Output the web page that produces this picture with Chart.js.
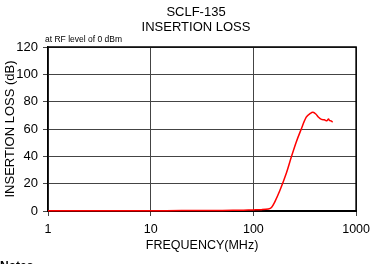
<!DOCTYPE html>
<html lang="en">
<head>
  <meta charset="UTF-8" />
  <title>SCLF-135 Insertion Loss</title>
  <script src="https://cdn.jsdelivr.net/npm/chart.js"></script>
</head>
<body style="margin: 0; padding: 0; background: #fff;">
  <canvas id="lossChart" width="376" height="264" style="display: block;"></canvas>

  <script>
    // values
    const freqMHz = [1, 2, 5, 10, 20, 50, 80, 100, 120, 140, 150, 160, 181, 210, 234, 260, 289, 327, 360, 380, 405, 431, 460, 491, 520, 539, 550, 570, 592];
    const lossDb = [0.2, 0.2, 0.2, 0.2, 0.3, 0.4, 0.6, 0.8, 1.0, 1.5, 2.5, 6, 15, 28, 39.5, 50, 59, 68.6, 71.5, 72.2, 71, 68.6, 67, 66.7, 66, 67.4, 66.2, 66, 65];
    const xTicks = [1, 10, 100, 1000];
    const yTicks = [0, 20, 40, 60, 80, 100, 120];
    const chartTitle = ['SCLF-135', 'INSERTION LOSS'];
    const noteText = 'at RF level of 0 dBm';

    const FONT = '"Liberation Sans", Arial, sans-serif';

    const extraText = {
      id: 'extraText',
      afterDraw(chart) {
        const ctx = chart.ctx;
        const area = chart.chartArea;
        ctx.save();
        // plot frame
        ctx.strokeStyle = '#000';
        ctx.lineWidth = 1.5;
        ctx.beginPath();
        ctx.moveTo(area.left, area.top);
        ctx.lineTo(area.right, area.top);
        ctx.lineTo(area.right, area.bottom);
        ctx.stroke();

        ctx.fillStyle = '#000';
        ctx.textAlign = 'center';
        ctx.textBaseline = 'middle';
        ctx.font = '13px ' + FONT;
        ctx.fillText(chartTitle[0], 196, 12);
        ctx.fillText(chartTitle[1], 196, 27);

        ctx.textAlign = 'left';
        ctx.font = '8.5px ' + FONT;
        ctx.fillText(noteText, 45, 40);

        ctx.textAlign = 'center';
        ctx.font = '12.5px ' + FONT;
        ctx.fillText('FREQUENCY(MHz)', (area.left + area.right) / 2, 246);

        ctx.font = '13px ' + FONT;
        ctx.translate(10, (area.top + area.bottom) / 2);
        ctx.rotate(-Math.PI / 2);
        ctx.fillText('INSERTION LOSS (dB)', 0, 0);
        ctx.restore();

        ctx.save();
        ctx.fillStyle = '#000';
        ctx.font = 'bold 12px ' + FONT;
        ctx.textAlign = 'left';
        ctx.textBaseline = 'top';
        ctx.fillText('Notes', 0, 261);
        ctx.restore();
      }
    };

    const ctx = document.getElementById('lossChart').getContext('2d');
    new Chart(ctx, {
      type: 'line',
      data: {
        datasets: [{
          label: 'Insertion Loss',
          data: freqMHz.map((f, i) => ({ x: f, y: lossDb[i] })),
          borderColor: '#ff0000',
          borderWidth: 1.5,
          pointRadius: 0,
          tension: 0.3,
          fill: false,
          clip: 3
        }]
      },
      options: {
        responsive: false,
        animation: false,
        events: [],
        layout: { padding: { top: 47, right: 18, left: 0, bottom: 0 } },
        plugins: {
          legend: { display: false },
          title: { display: false },
          tooltip: { enabled: false }
        },
        scales: {
          x: {
            type: 'logarithmic',
            min: 1,
            max: 1000,
            afterBuildTicks: scale => { scale.ticks = xTicks.map(v => ({ value: v })); },
            afterFit: scale => { scale.height = 53; },
            ticks: {
              color: '#000',
              font: { family: FONT, size: 12.5 },
              padding: 6,
              maxRotation: 0,
              autoSkip: false,
              callback: v => String(v)
            },
            grid: { color: '#444', lineWidth: 1, tickLength: 5 },
            border: { color: '#000', width: 2 }
          },
          y: {
            min: 0,
            max: 120,
            afterBuildTicks: scale => { scale.ticks = yTicks.map(v => ({ value: v })); },
            afterFit: scale => { scale.width = 48; },
            ticks: {
              color: '#000',
              font: { family: FONT, size: 13 },
              padding: 5
            },
            grid: { color: '#444', lineWidth: 1, tickLength: 5 },
            border: { color: '#000', width: 1.5 }
          }
        }
      },
      plugins: [extraText]
    });
  </script>
</body>
</html>
